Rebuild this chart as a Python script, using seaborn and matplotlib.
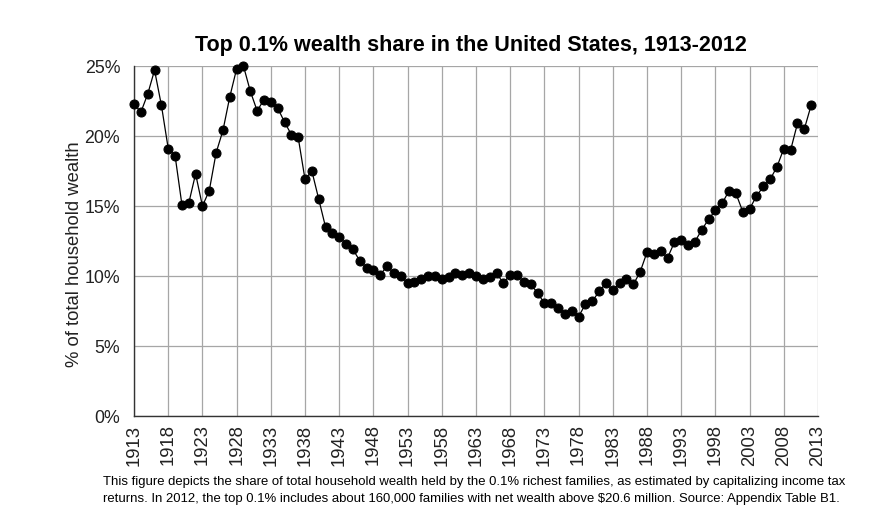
import matplotlib.pyplot as plt
import matplotlib.ticker as mtick
import numpy as np
import pandas as pd
import seaborn as sns

years = list(range(1913, 2013))
share = [
    22.3, 21.7, 23.0, 24.7, 22.2, 19.1, 18.6, 15.1, 15.2, 17.3,
    15.0, 16.1, 18.8, 20.4, 22.8, 24.8, 25.0, 23.2, 21.8, 22.6,
    22.4, 22.0, 21.0, 20.1, 19.9, 16.9, 17.5, 15.5, 13.5, 13.1,
    12.8, 12.3, 11.9, 11.1, 10.6, 10.4, 10.1, 10.7, 10.2, 10.0,
    9.5, 9.6, 9.8, 10.0, 10.0, 9.8, 9.9, 10.2, 10.1, 10.2,
    10.0, 9.8, 9.95, 10.2, 9.5, 10.1, 10.05, 9.6, 9.4, 8.8,
    8.05, 8.05, 7.7, 7.3, 7.5, 7.1, 8.0, 8.2, 8.9, 9.5,
    9.0, 9.5, 9.8, 9.4, 10.3, 11.7, 11.55, 11.8, 11.3, 12.4,
    12.6, 12.2, 12.45, 13.3, 14.05, 14.7, 15.2, 16.1, 15.9, 14.6,
    14.8, 15.7, 16.4, 16.9, 17.8, 19.1, 19.0, 20.9, 20.5, 22.2,
]
xticks = list(range(1913, 2014, 5))
yticks = [0, 5, 10, 15, 20, 25]

df = pd.DataFrame({"year": years, "share": share})

sns.set_style("whitegrid")
plt.rcParams["font.family"] = ["Liberation Sans", "DejaVu Sans"]

fig = plt.figure(figsize=(8.9, 5.26), dpi=100)
ax = fig.add_axes([0.1506, 0.209, 0.7685, 0.6655])

sns.lineplot(data=df, x="year", y="share", ax=ax, color="black", linewidth=0.9,
             marker="o", markersize=6.5, markeredgecolor="black", markerfacecolor="black",
             clip_on=False, zorder=5)

ax.set_xlim(1913, 2013)
ax.set_ylim(0, 25)
ax.set_xticks(xticks)
ax.set_yticks(yticks)
ax.yaxis.set_major_formatter(mtick.FuncFormatter(lambda v, p: f"{v:.0f}%"))
ax.tick_params(axis="x", rotation=90, labelsize=13.3, pad=6, length=0)
ax.tick_params(axis="y", labelsize=12.8, pad=10, length=0)
for lab in ax.get_xticklabels() + ax.get_yticklabels():
    lab.set_color("#222222")

ax.grid(True, color="#a6a6a6", linewidth=0.9)
for side in ["top", "right"]:
    ax.spines[side].set_visible(False)
for side in ["left", "bottom"]:
    ax.spines[side].set_color("#333333")
    ax.spines[side].set_linewidth(1.0)

ax.set_xlabel("")
ax.set_ylabel("% of total household wealth", fontsize=13.3, color="#222222")
ax.yaxis.set_label_coords(-0.075, 0.463)
fig.text(0.529, 0.913, "Top 0.1% wealth share in the United States, 1913-2012",
         ha="center", va="center", fontsize=15.5, fontweight="bold", color="black")

note = ("This figure depicts the share of total household wealth held by the 0.1% richest families, "
        "as estimated by capitalizing income tax\n"
        "returns. In 2012, the top 0.1% includes about 160,000 families with net wealth above "
        "$20.6 million. Source: Appendix Table B1.")
fig.text(0.116, 0.068, note, ha="left", va="center", fontsize=9.45,
         family=["Liberation Sans Narrow", "Liberation Sans", "DejaVu Sans"],
         linespacing=1.55, color="black")

fig.savefig("out.png", dpi=100, facecolor="white")
